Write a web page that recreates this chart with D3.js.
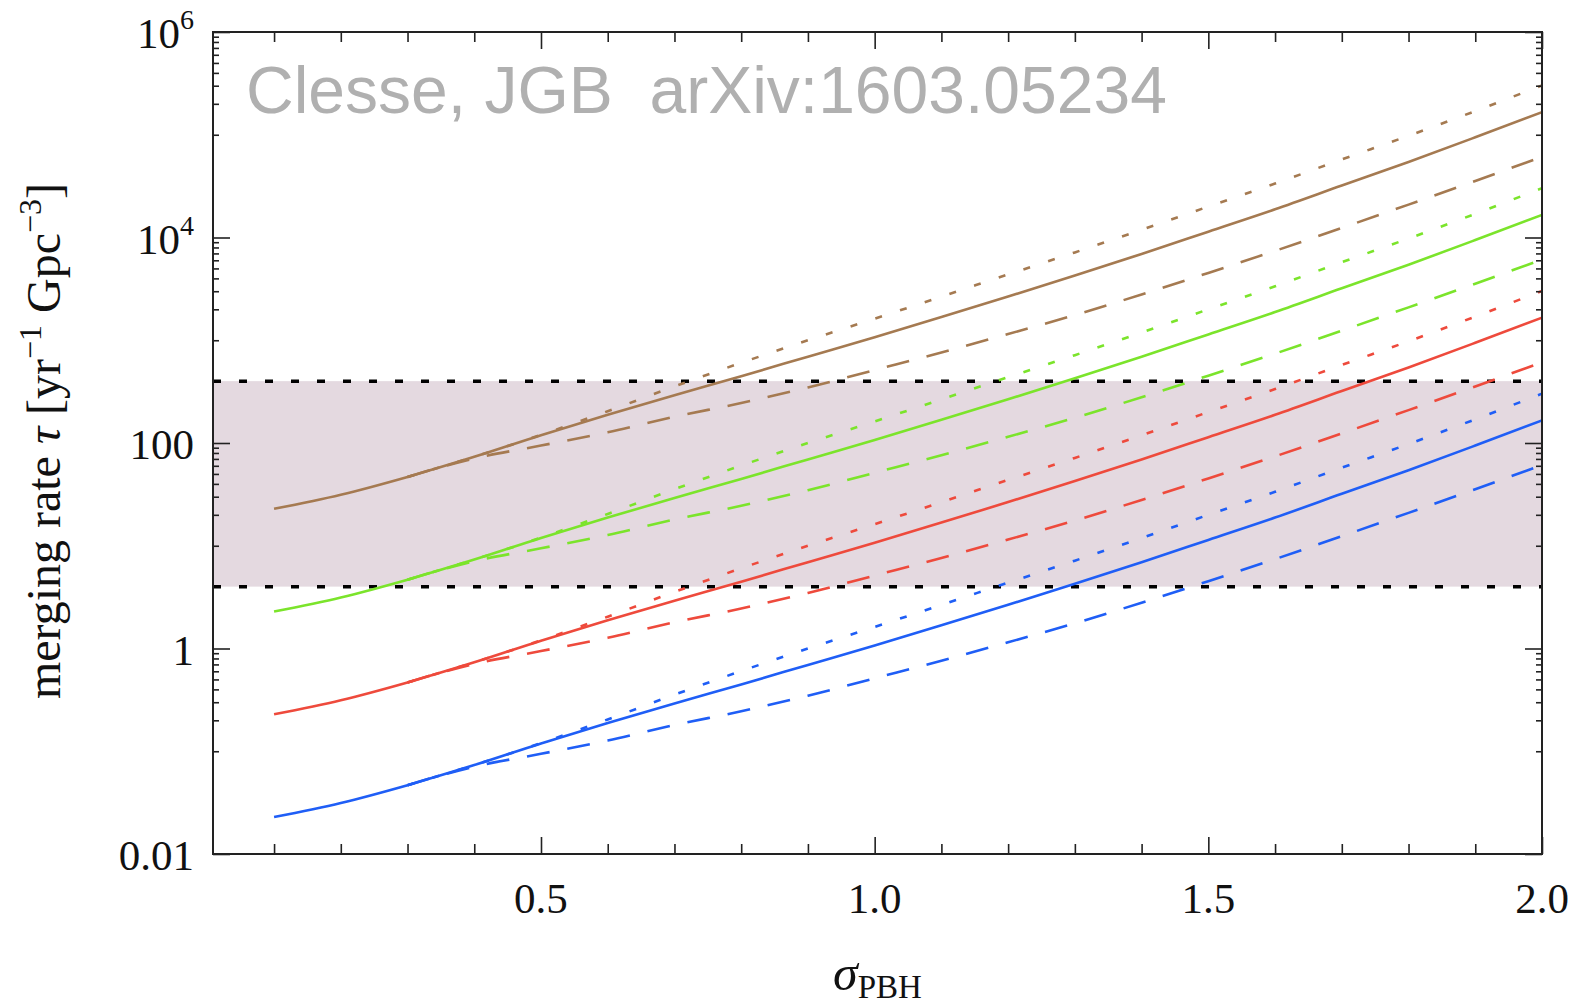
<!DOCTYPE html>
<html>
<head>
<meta charset="utf-8">
<script src="https://cdn.jsdelivr.net/npm/d3@7"></script>
<style>
  body { margin: 0; background: #fff; }
  svg { display: block; }
</style>
</head>
<body>
<div id="chart"></div>
<script>
var sigma = [0.1, 0.2, 0.3, 0.4, 0.5, 0.6, 0.7, 0.8, 0.9, 1.0, 1.1, 1.2, 1.3, 1.4, 1.5, 1.6, 1.7, 1.8, 1.9, 2.0];
var sigmaTail = [0.3, 0.4, 0.5, 0.6, 0.7, 0.8, 0.9, 1.0, 1.1, 1.2, 1.3, 1.4, 1.5, 1.6, 1.7, 1.8, 1.9, 2.0];

// merging rates, solid lines (on sigma)
var blueSolid  = [0.0229, 0.0314, 0.0468, 0.0733, 0.119, 0.188, 0.292, 0.447, 0.692, 1.07, 1.68, 2.66, 4.27, 6.92, 11.4, 18.8, 32.0, 54.3, 94.4, 166];
var redSolid   = [0.229, 0.314, 0.468, 0.733, 1.19, 1.88, 2.92, 4.47, 6.92, 10.7, 16.8, 26.6, 42.7, 69.2, 114, 188, 320, 543, 944, 1660];
var greenSolid = [2.29, 3.14, 4.68, 7.33, 11.9, 18.8, 29.2, 44.7, 69.2, 107, 168, 266, 427, 692, 1140, 1880, 3200, 5430, 9440, 16600];
var brownSolid = [22.9, 31.4, 46.8, 73.3, 119, 188, 292, 447, 692, 1070, 1680, 2660, 4270, 6920, 11400, 18800, 32000, 54300, 94400, 166000];

// dotted lines (on sigmaTail)
var blueDotted  = [0.0468, 0.0733, 0.120, 0.204, 0.355, 0.603, 1.00, 1.62, 2.66, 4.37, 7.16, 11.9, 20.0, 33.5, 57.5, 97.7, 170, 302];
var redDotted   = [0.468, 0.733, 1.20, 2.04, 3.55, 6.03, 10.0, 16.2, 26.6, 43.7, 71.6, 119, 200, 335, 575, 977, 1700, 3020];
var greenDotted = [4.68, 7.33, 12.0, 20.4, 35.5, 60.3, 100, 162, 266, 437, 716, 1190, 2000, 3350, 5750, 9770, 17000, 30200];
var brownDotted = [46.8, 73.3, 120, 204, 355, 603, 1000, 1620, 2660, 4370, 7160, 11900, 20000, 33500, 57500, 97700, 170000, 302000];

// dashed lines (on sigmaTail)
var blueDashed  = [0.0468, 0.0708, 0.0944, 0.127, 0.180, 0.245, 0.347, 0.513, 0.759, 1.15, 1.76, 2.79, 4.52, 7.41, 12.4, 20.9, 35.5, 61.0];
var redDashed   = [0.468, 0.708, 0.944, 1.27, 1.80, 2.45, 3.47, 5.13, 7.59, 11.5, 17.6, 27.9, 45.2, 74.1, 124, 209, 355, 610];
var greenDashed = [4.68, 7.08, 9.44, 12.7, 18.0, 24.5, 34.7, 51.3, 75.9, 115, 176, 279, 452, 741, 1240, 2090, 3550, 6100];
var brownDashed = [46.8, 70.8, 94.4, 127, 180, 245, 347, 513, 759, 1150, 1760, 2790, 4520, 7410, 12400, 20900, 35500, 61000];

// observed band
var bandLow = 4, bandHigh = 400;

// ticks
var xMajorTicks = [0.5, 1.0, 1.5, 2.0];
var xTickLabels = ["0.5", "1.0", "1.5", "2.0"];
var xMinorTicks = [0.1, 0.2, 0.3, 0.4, 0.6, 0.7, 0.8, 0.9, 1.1, 1.2, 1.3, 1.4, 1.6, 1.7, 1.8, 1.9];
var yMajorTicks = [0.01, 1, 100, 1e4, 1e6];
var yTickBase = ["0.01", "1", "100", "10", "10"];
var yTickSup = ["", "", "", "4", "6"];

var colors = { blue: "#1f5ef6", red: "#ee4a3c", green: "#7be42b", brown: "#a57a51" };

var W = 1575, H = 1007;
var margin = { left: 213, right: 33, top: 32, bottom: 153 };
var width = W - margin.left - margin.right,
    height = H - margin.top - margin.bottom;

var svg = d3.select("#chart").append("svg")
    .attr("width", W)
    .attr("height", H);

var g = svg.append("g")
    .attr("transform", "translate(" + margin.left + "," + margin.top + ")");

var x = d3.scaleLinear().domain([0.0085, 2.0]).range([0, width]);
var y = d3.scaleLog().domain([0.01, 1e6]).range([height, 0]);

svg.append("defs").append("clipPath").attr("id", "plotclip")
    .append("rect").attr("width", width).attr("height", height);

// shaded band
g.append("rect")
    .attr("x", 0)
    .attr("width", width)
    .attr("y", y(bandHigh))
    .attr("height", y(bandLow) - y(bandHigh))
    .attr("fill", "#e4d9e0");

// band limits, dotted black
g.selectAll(".bandline")
    .data([bandLow, bandHigh])
    .enter().append("line")
    .attr("class", "bandline")
    .attr("x1", 0).attr("x2", width)
    .attr("y1", function(d) { return y(d); })
    .attr("y2", function(d) { return y(d); })
    .attr("stroke", "#000")
    .attr("stroke-width", 3.5)
    .attr("stroke-dasharray", "8,18");

// all curves
var curves = [
    { xs: sigma, ys: blueSolid, color: colors.blue, dash: null },
    { xs: sigmaTail, ys: blueDotted, color: colors.blue, dash: "7,19" },
    { xs: sigmaTail, ys: blueDashed, color: colors.blue, dash: "23,18" },
    { xs: sigma, ys: redSolid, color: colors.red, dash: null },
    { xs: sigmaTail, ys: redDotted, color: colors.red, dash: "7,19" },
    { xs: sigmaTail, ys: redDashed, color: colors.red, dash: "23,18" },
    { xs: sigma, ys: greenSolid, color: colors.green, dash: null },
    { xs: sigmaTail, ys: greenDotted, color: colors.green, dash: "7,19" },
    { xs: sigmaTail, ys: greenDashed, color: colors.green, dash: "23,18" },
    { xs: sigma, ys: brownSolid, color: colors.brown, dash: null },
    { xs: sigmaTail, ys: brownDotted, color: colors.brown, dash: "7,19" },
    { xs: sigmaTail, ys: brownDashed, color: colors.brown, dash: "23,18" }
];

var line = d3.line()
    .x(function(d) { return x(d[0]); })
    .y(function(d) { return y(d[1]); })
    .curve(d3.curveMonotoneX);

g.append("g").attr("clip-path", "url(#plotclip)")
    .selectAll(".curve")
    .data(curves)
    .enter().append("path")
    .attr("class", "curve")
    .attr("d", function(c) { return line(c.xs.map(function(s, i) { return [s, c.ys[i]]; })); })
    .attr("fill", "none")
    .attr("stroke", function(c) { return c.color; })
    .attr("stroke-width", 2.6)
    .attr("stroke-dasharray", function(c) { return c.dash; });

// minor y ticks: j * 10^(k+1) between labelled decades
var yMinorTicks = [];
yMajorTicks.slice(0, -1).forEach(function(m) {
    for (var j = 1; j <= 9; j++) yMinorTicks.push(j * m * 10);
});

function cleanAxis(sel) {
    sel.select(".domain").remove();
    sel.selectAll("text").remove();
    sel.selectAll("line").attr("stroke", "#222").attr("stroke-width", 1.6);
}

// bottom & top
g.append("g").attr("transform", "translate(0," + height + ")")
    .call(d3.axisBottom(x).tickValues(xMajorTicks).tickSizeInner(-17).tickSizeOuter(0)).call(cleanAxis);
g.append("g").attr("transform", "translate(0," + height + ")")
    .call(d3.axisBottom(x).tickValues(xMinorTicks).tickSizeInner(-10).tickSizeOuter(0)).call(cleanAxis);
g.append("g")
    .call(d3.axisTop(x).tickValues(xMajorTicks).tickSizeInner(-17).tickSizeOuter(0)).call(cleanAxis);
g.append("g")
    .call(d3.axisTop(x).tickValues(xMinorTicks).tickSizeInner(-10).tickSizeOuter(0)).call(cleanAxis);

// left & right
g.append("g")
    .call(d3.axisLeft(y).tickValues(yMajorTicks).tickSizeInner(-17).tickSizeOuter(0)).call(cleanAxis);
g.append("g")
    .call(d3.axisLeft(y).tickValues(yMinorTicks).tickSizeInner(-6).tickSizeOuter(0)).call(cleanAxis);
g.append("g").attr("transform", "translate(" + width + ",0)")
    .call(d3.axisRight(y).tickValues(yMajorTicks).tickSizeInner(-17).tickSizeOuter(0)).call(cleanAxis);
g.append("g").attr("transform", "translate(" + width + ",0)")
    .call(d3.axisRight(y).tickValues(yMinorTicks).tickSizeInner(-6).tickSizeOuter(0)).call(cleanAxis);

// frame
g.append("rect")
    .attr("width", width).attr("height", height)
    .attr("fill", "none")
    .attr("stroke", "#222")
    .attr("stroke-width", 2);

var serif = "'Liberation Serif', 'Times New Roman', serif";

// x tick labels
g.selectAll(".xlab")
    .data(xMajorTicks)
    .enter().append("text")
    .attr("class", "xlab")
    .attr("x", function(d) { return x(d); })
    .attr("y", height + 59)
    .attr("text-anchor", "middle")
    .attr("font-family", serif)
    .attr("font-size", 43)
    .attr("fill", "#111")
    .text(function(d, i) { return xTickLabels[i]; });

// y tick labels
var ylab = g.selectAll(".ylab")
    .data(yMajorTicks)
    .enter().append("text")
    .attr("class", "ylab")
    .attr("x", -19)
    .attr("y", function(d) { return y(d) + 16; })
    .attr("text-anchor", "end")
    .attr("font-family", serif)
    .attr("font-size", 43)
    .attr("fill", "#111");
ylab.append("tspan").text(function(d, i) { return yTickBase[i]; });
ylab.append("tspan")
    .attr("font-size", 28)
    .attr("dy", -19)
    .text(function(d, i) { return yTickSup[i]; });

// x axis title
var xt = svg.append("text")
    .attr("x", margin.left + width / 2)
    .attr("y", 990)
    .attr("text-anchor", "middle")
    .attr("font-family", serif)
    .attr("fill", "#111");
xt.append("tspan").attr("font-size", 50).attr("font-style", "italic").text("σ");
xt.append("tspan").attr("font-size", 33).attr("dy", 8).text("PBH");

// y axis title
var yt = svg.append("text")
    .attr("transform", "translate(60,441) rotate(-90)")
    .attr("text-anchor", "middle")
    .attr("font-family", serif)
    .attr("font-size", 48)
    .attr("fill", "#111");
yt.append("tspan").text("merging rate ");
yt.append("tspan").attr("font-style", "italic").text("τ");
yt.append("tspan").text(" [yr");
yt.append("tspan").attr("font-size", 32).attr("dy", -19).text("−1");
yt.append("tspan").attr("dy", 19).text(" Gpc");
yt.append("tspan").attr("font-size", 32).attr("dy", -19).text("−3");
yt.append("tspan").attr("dy", 19).text("]");

// watermark
svg.append("text")
    .attr("x", 246)
    .attr("y", 113)
    .attr("font-family", "'Liberation Sans', Arial, sans-serif")
    .attr("font-size", 66)
    .attr("fill", "#b0b0b0")
    .style("white-space", "pre")
    .text("Clesse, JGB  arXiv:1603.05234");
</script>
</body>
</html>
